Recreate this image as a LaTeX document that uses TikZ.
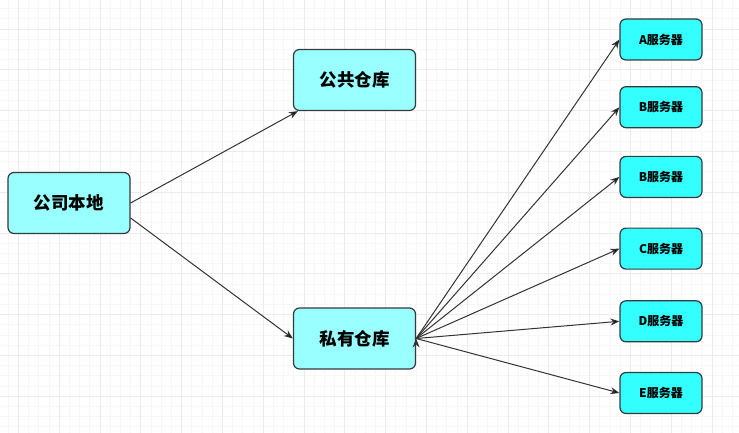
\documentclass[tikz,border=0pt]{standalone}
\usepackage{fontspec}
\setmainfont{Noto Sans CJK SC}
\usepackage{tikz}
\usetikzlibrary{arrows.meta,positioning}

\definecolor{bigfill}{HTML}{99FFFF}
\definecolor{srvfill}{HTML}{33FFFF}
\definecolor{boxline}{HTML}{36393D}
\definecolor{edgeline}{HTML}{333333}
\definecolor{minorgrid}{HTML}{F7F7F7}
\definecolor{majorgrid}{HTML}{EBEBEB}

\tikzset{
  repo/.style={draw=boxline, line width=1.2pt, fill=bigfill, rounded corners=6pt,
    minimum width=122pt, minimum height=61pt, inner sep=0pt,
    font=\fontsize{17.5}{20}\selectfont\bfseries},
  server/.style={draw=boxline, line width=1.2pt, fill=srvfill, rounded corners=6pt,
    minimum width=82pt, minimum height=41pt, inner sep=0pt,
    font=\fontsize{12}{14}\selectfont\bfseries},
  link/.style={draw=edgeline, line width=1pt, -{Stealth[length=9pt,width=7pt]}}
}

\begin{document}
\begin{tikzpicture}[x=1pt, y=-1pt, node distance=28.5pt]
  \useasboundingbox (0,0) rectangle (739,433);
  % background grid
  \foreach \i in {0,...,73}
    \draw[minorgrid, line width=0.8pt] ({18.3+10.2*(\i-2)},0) -- ++(0,433);
  \foreach \i in {0,...,43}
    \draw[minorgrid, line width=0.8pt] (0,{29+10.2*(\i-3)}) -- ++(739,0);
  \foreach \i in {0,...,18}
    \draw[majorgrid, line width=0.8pt] ({18.3+40.8*(\i-1)},0) -- ++(0,433);
  \foreach \i in {0,...,10}
    \draw[majorgrid, line width=0.8pt] (0,{29+40.8*(\i-1)}) -- ++(739,0);

  % repositories
  \node[repo] (local) at (69,203) {公司本地};
  \node[repo] (pub) at (354.5,80) {公共仓库};
  \node[repo] (priv) at (354.5,338.5) {私有仓库};

  % servers
  \node[server] (srvA) at (661,39.5) {A服务器};
  \node[server, below=25.5pt of srvA] (srvB) {B服务器};
  \node[server, below=27.5pt of srvB] (srvBb) {B服务器};
  \node[server, below=29.5pt of srvBb] (srvC) {C服务器};
  \node[server, below=30.5pt of srvC] (srvD) {D服务器};
  \node[server, below=29.5pt of srvD] (srvE) {E服务器};

  \path[link]
    (local.east) edge ([xshift=5pt]pub.south west)
    ([yshift=-15pt]local.east) edge (priv.west)
    (priv.east) edge (srvA.west)
    (priv.east) edge (srvB.west)
    (priv.east) edge (srvBb.west)
    (priv.east) edge (srvC.west)
    (priv.east) edge (srvD.west)
    (priv.east) edge (srvE.west)
  ;
\end{tikzpicture}
\end{document}
